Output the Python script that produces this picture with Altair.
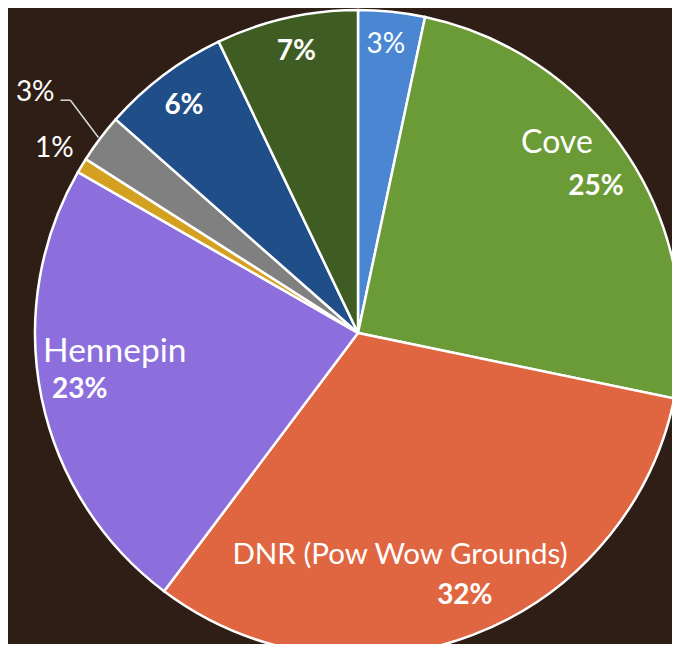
import altair as alt
import pandas as pd

# ---- data ----
slice_ids = [1, 2, 3, 4, 5, 6, 7, 8]
names = ["", "Cove", "DNR (Pow Wow Grounds)", "Hennepin", "", "", "", ""]
values = [3.33, 24.92, 32.0, 23.05, 0.75, 2.45, 6.4, 7.1]
pct_labels = ["3%", "25%", "32%", "23%", "1%", "3%", "6%", "7%"]

# ---- style ----
colors = ["#4a86d1", "#6b9b37", "#df6641", "#8c6fdd", "#d4a020", "#808080", "#1f4e88", "#3f5d23"]
pct_radius = [289, 279, 284, 284, 355, 402, 286, 288]
pct_dangle = [-0.45, 1.7, -1.4, 0.0, 0.0, -0.4, -0.4, 0.4]
pct_bold = [False, True, True, True, False, False, True, True]
name_radius = [0, 275, 226, 244, 0, 0, 0, 0]
name_dangle = [0, -10.5, 10.0, 7.1, 0, 0, 0, 0]
name_size = [0, 32, 29.5, 33.5, 0, 0, 0, 0]
leader = [False, False, False, False, False, True, False, False]

CX, CY, R = 350, 325, 323
FONT = "Lato"
BG = "#2f1e15"

df = pd.DataFrame({
    "id": slice_ids, "name": names, "value": values, "pct": pct_labels,
    "pr": pct_radius, "pda": pct_dangle, "bold": pct_bold,
    "nr": name_radius, "nda": name_dangle, "nsize": name_size, "leader": leader,
})

base = alt.Chart(df)

arcs = base.mark_arc(outerRadius=R, stroke="white", strokeWidth=2.5).encode(
    theta=alt.Theta("value:Q", stack=True),
    order=alt.Order("id:O"),
    color=alt.Color("id:N", scale=alt.Scale(domain=slice_ids, range=colors), legend=None),
    x=alt.value(CX), y=alt.value(CY),
)

def with_angles(ch):
    return ch.transform_joinaggregate(total="sum(value)").transform_window(
        cum="sum(value)", sort=[alt.SortField("id")], frame=[None, 0]
    ).transform_calculate(
        mid="(datum.cum - datum.value/2) / datum.total * 2 * PI"
    )

def text_layer(filter_expr, r_field, da_field, text_field, size, weight, size_field=None):
    ch = with_angles(base).transform_filter(filter_expr).transform_calculate(
        ang=f"datum.mid + datum.{da_field} * PI / 180"
    ).transform_calculate(
        px=f"{CX} + datum.{r_field} * sin(datum.ang)",
        py=f"{CY} - datum.{r_field} * cos(datum.ang)",
    )
    enc = dict(x=alt.X("px:Q", scale=None), y=alt.Y("py:Q", scale=None), text=f"{text_field}:N")
    if size_field:
        enc["size"] = alt.Size(f"{size_field}:Q", scale=None, legend=None)
    return ch.mark_text(font=FONT, fontSize=size, fontWeight=weight, color="white",
                        align="center", baseline="middle").encode(**enc)

names_layer = text_layer("datum.name != ''", "nr", "nda", "name", 31, "normal", "nsize")
pct_bold_layer = text_layer("datum.bold", "pr", "pda", "pct", 28, "bold")
pct_reg_layer = text_layer("!datum.bold", "pr", "pda", "pct", 28, "normal")

lead = with_angles(base).transform_filter("datum.leader").transform_calculate(
    ex=f"{CX} + {R + 2} * sin(datum.mid)",
    ey=f"{CY} - {R + 2} * cos(datum.mid)",
    bx=f"{CX} + 370 * sin(datum.mid + 2 * PI / 180)",
    by=f"{CY} - 370 * cos(datum.mid + 2 * PI / 180)",
).transform_calculate(
    tx="datum.bx - 10", ty="datum.by"
)
lead1 = lead.mark_rule(color="#d9d9d9", strokeWidth=1.5).encode(
    x=alt.X("ex:Q", scale=None), y=alt.Y("ey:Q", scale=None),
    x2="bx:Q", y2="by:Q",
)
lead2 = lead.mark_rule(color="#d9d9d9", strokeWidth=1.5).encode(
    x=alt.X("bx:Q", scale=None), y=alt.Y("by:Q", scale=None),
    x2="tx:Q", y2="ty:Q",
)

chart = alt.layer(arcs, lead1, lead2, names_layer, pct_bold_layer, pct_reg_layer).properties(
    width=664, height=636, padding=0,
    autosize=alt.AutoSizeParams(type="none"),
    background=BG,
).configure_view(stroke=None)

chart.save("out.html", embed_options={"renderer": "svg", "actions": False})
